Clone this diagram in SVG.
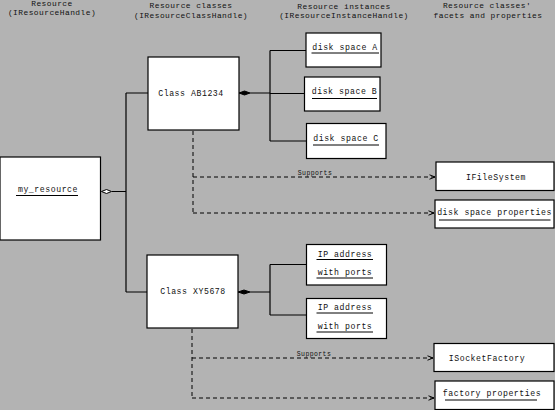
<svg xmlns="http://www.w3.org/2000/svg" width="555" height="410" viewBox="0 0 555 410">
<defs>
<marker id="open" markerWidth="7" markerHeight="6" refX="6" refY="3" orient="auto" markerUnits="userSpaceOnUse">
<path d="M0.5,0.8 L6,3 L0.5,5.2" fill="none" stroke="#000" stroke-width="1"/>
</marker>
</defs>
<style>
.box{fill:#fff;stroke:#000;stroke-width:1.2}
.t{font-family:"Liberation Mono","DejaVu Sans Mono",monospace;font-size:8.2px;letter-spacing:0.55px;fill:#111;text-anchor:middle}
.h{font-family:"Liberation Mono","DejaVu Sans Mono",monospace;font-size:7.9px;letter-spacing:0.45px;fill:#111;text-anchor:middle}
.s{font-family:"Liberation Mono","DejaVu Sans Mono",monospace;font-size:6.5px;letter-spacing:0.4px;fill:#111;text-anchor:middle}
.u{stroke:#000;stroke-width:1}
.ln{stroke:#000;stroke-width:1.2;fill:none}
.dash{stroke:#000;stroke-width:1;fill:none;stroke-dasharray:4 3}
</style>
<rect width="555" height="410" fill="#b3b3b3"/>
<g id="headers">
<text class="h" x="52" y="6">Resource</text>
<text class="h" x="52" y="15">(IResourceHandle)</text>
<text class="h" x="191" y="8">Resource classes</text>
<text class="h" x="191" y="17.5">(IResourceClassHandle)</text>
<text class="h" x="344" y="8.5">Resource instances</text>
<text class="h" x="344" y="18">(IResourceInstanceHandle)</text>
<text class="h" x="487" y="8">Resource classes'</text>
<text class="h" x="488" y="18">facets and properties</text>
</g>
<g id="connectors">
<path class="ln" d="M112,191.5 H126 M126,93 V292 M126,93 H148 M126,292 H147"/>
<path d="M101.5,191.5 L106.5,189.5 L111.5,191.5 L106.5,193.5 Z" fill="#fff" stroke="#000" stroke-width="1"/>
<path class="ln" d="M250,93 H270 M270,50.5 V141 M270,50.5 H306 M270,93.5 H304 M270,141 H307"/>
<path d="M239,93 L244.5,91 L250,93 L244.5,95 Z" fill="#000" stroke="#000" stroke-width="1"/>
<path class="ln" d="M250,292 H270 M270,264.5 V315 M270,264.5 H307 M270,315 H307"/>
<path d="M238,292 L244,290 L250,292 L244,294 Z" fill="#000" stroke="#000" stroke-width="1"/>
<path class="dash" d="M193,131 V213"/>
<path class="dash" d="M193,177 H435" marker-end="url(#open)"/>
<path class="dash" d="M193,213 H434" marker-end="url(#open)"/>
<text class="s" x="315" y="175">Supports</text>
<path class="dash" d="M192,329 V398"/>
<path class="dash" d="M192,358 H433" marker-end="url(#open)"/>
<path class="dash" d="M192,398 H434" marker-end="url(#open)"/>
<text class="s" x="314" y="356">Supports</text>
</g>
<g id="my_resource">
<rect class="box" x="0" y="157" width="100.5" height="83"/>
<text class="t" x="48" y="192">my_resource</text>
<line class="u" x1="16" y1="195.5" x2="78" y2="195.5"/>
</g>
<g id="classAB1234">
<rect class="box" x="148" y="57" width="91" height="73"/>
<text class="t" x="191" y="95.5">Class AB1234</text>
</g>
<g id="classXY5678">
<rect class="box" x="147" y="255" width="91" height="73"/>
<text class="t" x="193" y="294">Class XY5678</text>
</g>
<g id="diskA">
<rect class="box" x="306" y="33" width="75" height="34"/>
<text class="t" x="345" y="50">disk space A</text>
<line class="u" x1="311.5" y1="53" x2="379" y2="53"/>
</g>
<g id="diskB">
<rect class="box" x="304.5" y="77" width="75.5" height="34"/>
<text class="t" x="344.5" y="94">disk space B</text>
<line class="u" x1="312" y1="98.5" x2="377" y2="98.5"/>
</g>
<g id="diskC">
<rect class="box" x="306.5" y="123.5" width="79.5" height="35"/>
<text class="t" x="346" y="140.5">disk space C</text>
<line class="u" x1="313" y1="145" x2="379" y2="145"/>
</g>
<g id="ip1">
<rect class="box" x="306.5" y="244.5" width="80" height="40.5"/>
<text class="t" x="345" y="256.5">IP address</text>
<line class="u" x1="316.5" y1="259.5" x2="373" y2="259.5"/>
<text class="t" x="345" y="275">with ports</text>
<line class="u" x1="316.5" y1="278" x2="373" y2="278"/>
</g>
<g id="ip2">
<rect class="box" x="306.5" y="298.5" width="80" height="40"/>
<text class="t" x="345" y="310">IP address</text>
<line class="u" x1="316.5" y1="313" x2="373" y2="313"/>
<text class="t" x="345" y="328.5">with ports</text>
<line class="u" x1="316.5" y1="332" x2="373" y2="332"/>
</g>
<g id="IFileSystem">
<rect class="box" x="436" y="162" width="118" height="28.5"/>
<text class="t" x="496" y="180">IFileSystem</text>
</g>
<g id="diskprops">
<rect class="box" x="435" y="200" width="119" height="28"/>
<text class="t" x="494.5" y="215">disk space properties</text>
<line class="u" x1="439" y1="220" x2="550.5" y2="220"/>
</g>
<g id="ISocketFactory">
<rect class="box" x="434" y="343.5" width="120" height="28"/>
<text class="t" x="487" y="361">ISocketFactory</text>
</g>
<g id="factoryprops">
<rect class="box" x="435" y="381" width="119" height="28.5"/>
<text class="t" x="492" y="396">factory properties</text>
<line class="u" x1="445" y1="400" x2="537" y2="400"/>
</g>
</svg>
